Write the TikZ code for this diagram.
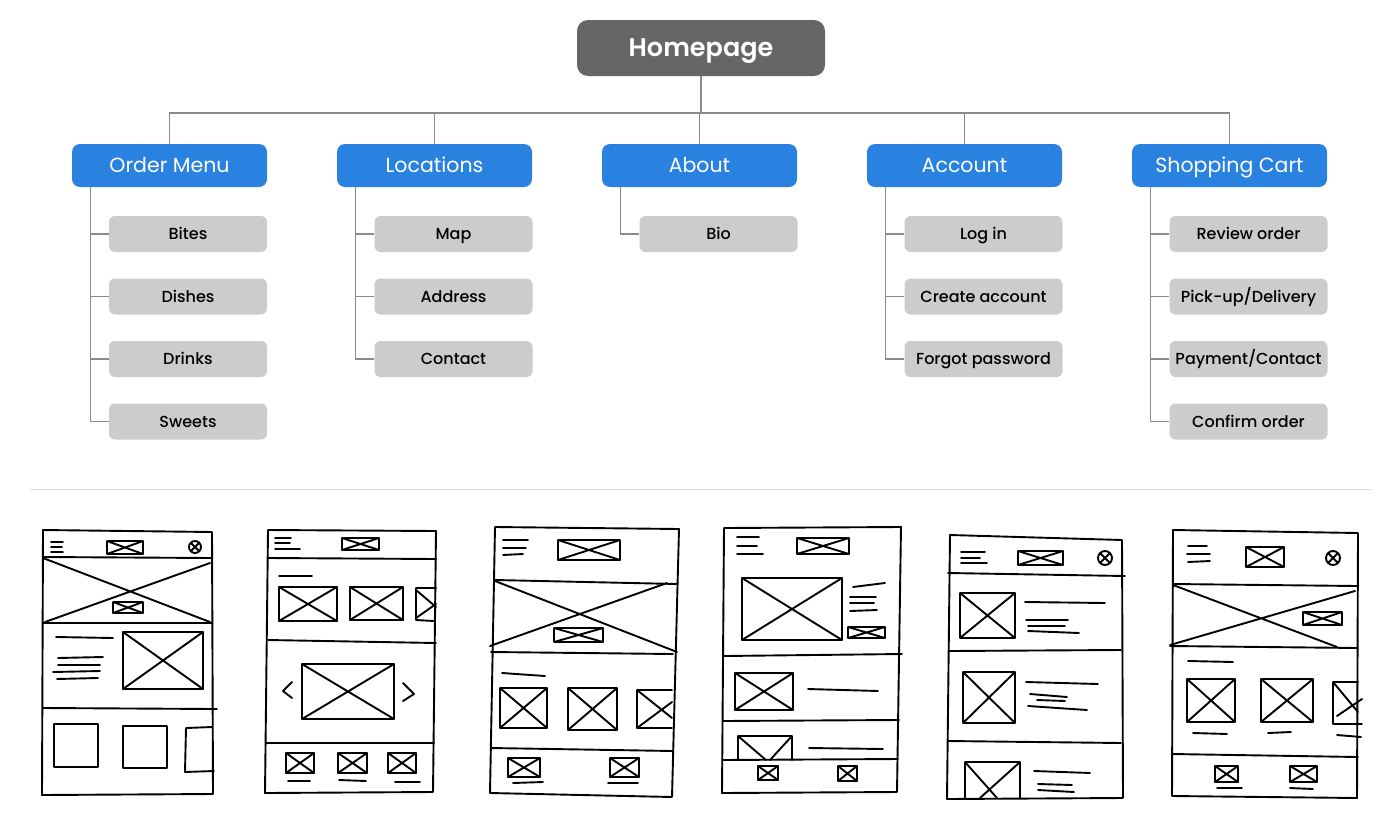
\documentclass[tikz,border=0pt]{standalone}
\usepackage{fontspec}
\setmainfont{Poppins}
\newfontfamily\headfont{Poppins SemiBold}
\newfontfamily\pagefont{Poppins Medium}
\usepackage{tikz}
\usetikzlibrary{positioning}
\definecolor{homegray}{HTML}{666666}
\definecolor{menublue}{HTML}{2A82E0}
\definecolor{pagegray}{HTML}{CCCCCC}
\definecolor{edgegray}{HTML}{8A8A8A}
\definecolor{rulegray}{HTML}{DEDEDE}
\tikzset{
  homenode/.style={rectangle,rounded corners=11pt,fill=homegray,text=white,minimum width=248pt,minimum height=56pt,inner sep=0pt,text height=17.8pt,text depth=0pt,font=\headfont\fontsize{25.5}{28}\selectfont},
  secnode/.style={rectangle,rounded corners=8pt,fill=menublue,text=white,minimum width=195pt,minimum height=43pt,inner sep=0pt,text height=14.3pt,text depth=0pt,font=\fontsize{20.5}{23}\selectfont},
  pagenode/.style={rectangle,rounded corners=6pt,fill=pagegray,text=black,minimum width=158pt,minimum height=36pt,inner sep=0pt,text height=11.2pt,text depth=0pt,font=\pagefont\fontsize{16}{18}\selectfont},
  treeedge/.style={draw=edgegray,line width=1.3pt},
  sketch/.style={draw=black,line width=1.9pt,line cap=round,line join=round},
}
% crossed image placeholder of a wireframe
\newcommand\xbox[4]{\draw[sketch] (#1,#2) rectangle (#3,#4) (#1,#2) -- (#3,#4) (#1,#4) -- (#3,#2);}
% round profile icon
\newcommand\roundicon[3]{\draw[sketch] (#1,#2) circle[radius=#3] ({#1-#3*0.6},{#2-#3*0.6}) -- ({#1+#3*0.6},{#2+#3*0.6}) ({#1-#3*0.6},{#2+#3*0.6}) -- ({#1+#3*0.6},{#2-#3*0.6});}

\begin{document}
\begin{tikzpicture}[x=1pt,y=-1pt]
  \useasboundingbox (0,0) rectangle (1400,825);
  % sitemap
  \node[homenode] (home) at (701,48) {Homepage};
  \node[secnode] (om) at (169.5,165.5) {Order Menu};
  \node[secnode] (loc) at (434.5,165.5) {Locations};
  \node[secnode] (about) at (699.5,165.5) {About};
  \node[secnode] (acc) at (964.5,165.5) {Account};
  \node[secnode] (cart) at (1229.5,165.5) {Shopping Cart};
  \node[pagenode] (bites) at (188,234) {Bites};
  \node[pagenode] (dishes) at (188,296.5) {Dishes};
  \node[pagenode] (drinks) at (188,359) {Drinks};
  \node[pagenode] (sweets) at (188,421.5) {Sweets};
  \node[pagenode] (map) at (453.5,234) {Map};
  \node[pagenode] (addr) at (453.5,296.5) {Address};
  \node[pagenode] (contact) at (453.5,359) {Contact};
  \node[pagenode] (bio) at (718.5,234) {Bio};
  \node[pagenode] (login) at (983.5,234) {Log in};
  \node[pagenode] (create) at (983.5,296.5) {Create account};
  \node[pagenode] (forgot) at (983.5,359) {Forgot password};
  \node[pagenode] (review) at (1248.5,234) {Review order};
  \node[pagenode] (pickup) at (1248.5,296.5) {Pick-up/Delivery};
  \node[pagenode] (payment) at (1248.5,359) {Payment/Contact};
  \node[pagenode] (confirm) at (1248.5,421.5) {Confirm order};
  \coordinate (bus) at (701,113);
  \draw[treeedge] (home.south) -- (bus);
  \draw[treeedge] (om.north) |- (bus);
  \draw[treeedge] (loc.north) |- (bus);
  \draw[treeedge] (about.north) |- (bus);
  \draw[treeedge] (acc.north) |- (bus);
  \draw[treeedge] (cart.north) |- (bus);
  \draw[treeedge] ([xshift=19pt]om.south west) |- (bites.west);
  \draw[treeedge] ([xshift=19pt]om.south west) |- (dishes.west);
  \draw[treeedge] ([xshift=19pt]om.south west) |- (drinks.west);
  \draw[treeedge] ([xshift=19pt]om.south west) |- (sweets.west);
  \draw[treeedge] ([xshift=19pt]loc.south west) |- (map.west);
  \draw[treeedge] ([xshift=19pt]loc.south west) |- (addr.west);
  \draw[treeedge] ([xshift=19pt]loc.south west) |- (contact.west);
  \draw[treeedge] ([xshift=19pt]about.south west) |- (bio.west);
  \draw[treeedge] ([xshift=19pt]acc.south west) |- (login.west);
  \draw[treeedge] ([xshift=19pt]acc.south west) |- (create.west);
  \draw[treeedge] ([xshift=19pt]acc.south west) |- (forgot.west);
  \draw[treeedge] ([xshift=19pt]cart.south west) |- (review.west);
  \draw[treeedge] ([xshift=19pt]cart.south west) |- (pickup.west);
  \draw[treeedge] ([xshift=19pt]cart.south west) |- (payment.west);
  \draw[treeedge] ([xshift=19pt]cart.south west) |- (confirm.west);
  \draw[rulegray,line width=1pt] (30,489) -- (1372,489);

  % wireframe 1
  \draw[sketch] (43,530) -- (212,532) -- (213,794) -- (42,795) -- cycle;
  \draw[sketch] (43,557) -- (212,558);
  \draw[sketch] (51,542) -- (63,542) (51,547) -- (62,547) (51,552) -- (63,552);
  \xbox{107}{541}{143}{554}
  \roundicon{195}{547}{6}
  \draw[sketch] (43,558) -- (210,622) (210,563) -- (45,622);
  \draw[sketch] (43,623) -- (212,623);
  \xbox{113}{602}{143}{613}
  \draw[sketch] (56,637) -- (113,638) (58,658) -- (103,657) (58,665) -- (100,665) (53,672) -- (100,671) (57,679) -- (98,678);
  \xbox{123}{632}{203}{689}
  \draw[sketch] (43,708) -- (217,709);
  \draw[sketch] (54,724) rectangle (98,767) (123,726) rectangle (167,768);
  \draw[sketch] (212,727) -- (186,728) -- (185,772) -- (214,771);

  % wireframe 2
  \draw[sketch] (268,530) -- (436,531) -- (433,792) -- (265,793) -- cycle;
  \draw[sketch] (268,558) -- (436,559);
  \draw[sketch] (275,538) -- (291,538) (275,543) -- (290,543) (275,549) -- (300,549);
  \xbox{342}{538}{379}{550}
  \draw[sketch] (279,576) -- (312,576);
  \xbox{279}{587}{337}{621}
  \xbox{350}{587}{403}{620}
  \draw[sketch] (436,588) -- (416,588) -- (416,620) -- (434,621) (416,590) -- (436,607) (416,618) -- (436,604);
  \draw[sketch] (268,640) -- (436,643);
  \xbox{302}{664}{394}{719}
  \draw[sketch] (292,682) -- (283,691) -- (292,698) (403,683) -- (414,694) -- (403,701);
  \draw[sketch] (266,743) -- (434,743);
  \xbox{286}{753}{314}{773}
  \xbox{338}{753}{367}{773}
  \xbox{388}{753}{416}{773}
  \draw[sketch] (288,781) -- (310,781) (339,780) -- (366,781) (395,782) -- (420,782);

  % wireframe 3
  \draw[sketch] (495,527) -- (679,529) -- (672,797) -- (490,793) -- cycle;
  \draw[sketch] (503,540) -- (528,540) (503,548) -- (526,548) (503,555) -- (523,554);
  \xbox{558}{540}{620}{560}
  \draw[sketch] (495,580) -- (677,584);
  \draw[sketch] (495,581) -- (677,652) (667,583) -- (490,646);
  \xbox{554}{628}{603}{642}
  \draw[sketch] (491,652) -- (673,654);
  \draw[sketch] (502,673) -- (545,676);
  \xbox{500}{688}{547}{728}
  \xbox{568}{688}{617}{730}
  \draw[sketch] (672,690) -- (637,690) -- (637,728) -- (672,728) (637,690) -- (672,718) (637,728) -- (672,702);
  \draw[sketch] (491,748) -- (673,751);
  \xbox{508}{758}{540}{777}
  \xbox{610}{758}{639}{777}
  \draw[sketch] (513,783) -- (543,782) (608,783) -- (638,783);

  % wireframe 4
  \draw[sketch] (724,528) -- (901,527) -- (897,792) -- (722,793) -- cycle;
  \draw[sketch] (737,537) -- (759,537) (737,546) -- (757,546) (737,554) -- (763,554);
  \xbox{797}{538}{849}{554}
  \xbox{742}{578}{842}{640}
  \draw[sketch] (853,587) -- (885,583) (850,597) -- (876,597) (850,603) -- (874,603) (850,611) -- (877,610);
  \xbox{848}{627}{885}{638}
  \draw[sketch] (724,656) -- (902,654);
  \xbox{735}{673}{793}{710}
  \draw[sketch] (808,689) -- (878,691);
  \draw[sketch] (723,721) -- (899,720);
  \draw[sketch] (738,760) -- (738,736) -- (792,736) -- (792,760) (738,736) -- (766,760) (792,736) -- (770,760);
  \draw[sketch] (809,748) -- (883,749);
  \draw[sketch] (722,760) -- (898,759);
  \xbox{758}{766}{778}{780}
  \xbox{838}{766}{857}{781}

  % wireframe 5
  \draw[sketch] (950,535) -- (1122,540) -- (1123,798) -- (947,799) -- cycle;
  \draw[sketch] (961,552) -- (985,552) (961,558) -- (980,558) (961,563) -- (987,563);
  \xbox{1018}{551}{1063}{565}
  \roundicon{1105}{558}{7}
  \draw[sketch] (948,573) -- (1125,576);
  \xbox{960}{593}{1015}{638}
  \draw[sketch] (1025,602) -- (1105,603) (1026,620) -- (1068,620) (1028,626) -- (1065,626) (1028,631) -- (1079,633);
  \draw[sketch] (949,651) -- (1121,650);
  \xbox{963}{672}{1015}{723}
  \draw[sketch] (1026,682) -- (1098,684) (1030,694) -- (1067,697) (1037,700) -- (1065,701) (1028,706) -- (1087,710);
  \draw[sketch] (948,741) -- (1121,743);
  \draw[sketch] (965,798) -- (965,762) -- (1020,762) -- (1020,798) (965,762) -- (997,798) (1020,762) -- (980,798);
  \draw[sketch] (1034,771) -- (1090,773) (1038,784) -- (1072,785) (1038,790) -- (1074,792);

  % wireframe 6
  \draw[sketch] (1173,530) -- (1358,533) -- (1357,798) -- (1172,796) -- cycle;
  \draw[sketch] (1188,546) -- (1207,546) (1187,554) -- (1210,554) (1188,562) -- (1210,561);
  \xbox{1246}{547}{1284}{567}
  \roundicon{1333}{558}{7}
  \draw[sketch] (1173,584) -- (1357,586);
  \draw[sketch] (1173,585) -- (1337,647) (1355,591) -- (1170,645);
  \xbox{1303}{612}{1342}{625}
  \draw[sketch] (1170,646) -- (1358,648);
  \draw[sketch] (1188,661) -- (1233,662);
  \xbox{1187}{679}{1235}{722}
  \xbox{1261}{679}{1313}{722}
  \draw[sketch] (1358,682) -- (1333,682) -- (1333,724) -- (1362,724) (1333,682) -- (1358,712) (1337,716) -- (1362,699);
  \draw[sketch] (1193,733) -- (1227,734) (1268,733) -- (1291,732) (1337,735) -- (1361,737);
  \draw[sketch] (1172,754) -- (1358,757);
  \xbox{1215}{766}{1238}{782}
  \xbox{1290}{766}{1317}{782}
  \draw[sketch] (1217,788) -- (1242,788) (1290,788) -- (1313,789);
\end{tikzpicture}
\end{document}
